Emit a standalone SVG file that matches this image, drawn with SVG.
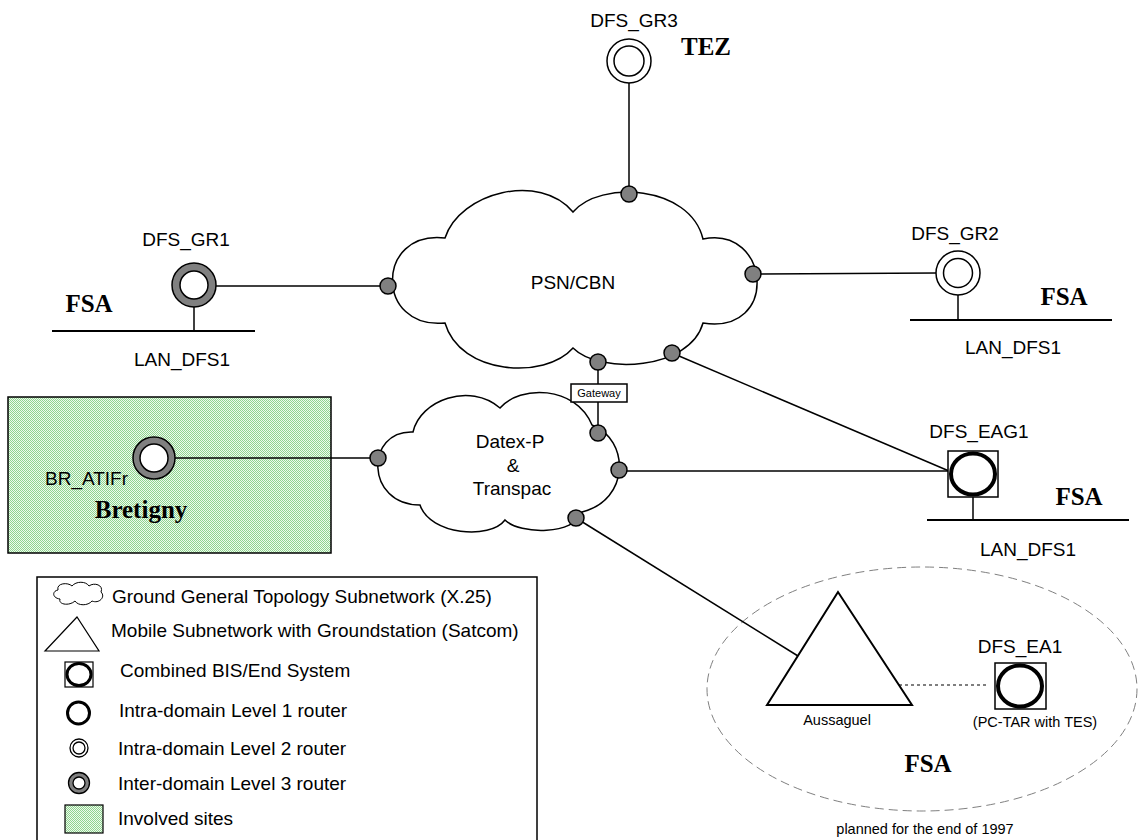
<svg xmlns="http://www.w3.org/2000/svg" width="1138" height="840" viewBox="0 0 1138 840">
<defs>
<pattern id="dots" width="2" height="2" patternUnits="userSpaceOnUse">
<rect width="2" height="2" fill="#eefaee"/>
<rect width="1" height="1" fill="#8fd48f"/>
<rect x="1" y="1" width="1" height="1" fill="#8fd48f"/>
</pattern>
</defs>
<style>
.l{font-family:"Liberation Sans",Arial,sans-serif;font-size:19px;fill:#000}
.s{font-family:"Liberation Sans",Arial,sans-serif;font-size:14.5px;fill:#000}
.g{font-family:"Liberation Sans",Arial,sans-serif;font-size:11px;fill:#000}
.b{font-family:"Liberation Serif","Times New Roman",serif;font-weight:bold;font-size:25px;fill:#000}
.ln{stroke:#000;stroke-width:1.5;fill:none}
.lan{stroke:#000;stroke-width:2;fill:none}
.dot{fill:#808080;stroke:#000;stroke-width:1.5}
.cloud{fill:#fff;stroke:#000;stroke-width:1.5}
.r3o{fill:#808080;stroke:#000;stroke-width:1.5}
.r3i{fill:#fff;stroke:#000;stroke-width:1.5}
.r2{fill:#fff;stroke:#000;stroke-width:1.5}
.bis{fill:#fff;stroke:#000;stroke-width:1.5}
.thick{fill:#fff;stroke:#000;stroke-width:4}
</style>
<rect width="1138" height="840" fill="#fff"/>

<g id="bretigny-site">
<rect x="8" y="397" width="323" height="156" fill="url(#dots)" stroke="#000" stroke-width="1.5"/>
<text class="b" x="141" y="518" text-anchor="middle">Bretigny</text>
</g>

<g id="fsa-planned">
<ellipse cx="922" cy="689" rx="215" ry="122" fill="none" stroke="#808080" stroke-width="1" stroke-dasharray="9 5"/>
<text class="b" x="928" y="772" text-anchor="middle">FSA</text>
<text class="s" x="925" y="834" text-anchor="middle">planned for the end of 1997</text>
</g>

<g id="connectors">
<line class="ln" x1="629" y1="83" x2="629" y2="194"/>
<line class="ln" x1="216" y1="286" x2="387" y2="286"/>
<line class="ln" x1="753" y1="274" x2="936" y2="273"/>
<line class="ln" x1="598" y1="362" x2="598" y2="433"/>
<line class="ln" x1="672" y1="353" x2="949" y2="471"/>
<line class="ln" x1="619" y1="471" x2="948" y2="471"/>
<line class="ln" x1="175" y1="458" x2="377" y2="458"/>
<line class="ln" x1="576" y1="518" x2="798" y2="656"/>
<line x1="899" y1="685" x2="988" y2="685" stroke="#555" stroke-width="1.5" stroke-dasharray="3 3"/>
</g>

<g id="psn-cbn">
<path class="cloud" d="M445,238 C460,192 540,172 573,212 C600,180 690,185 703,239 C770,225 780,335 703,323 C690,370 600,375 573,348 C545,380 460,375 445,323 C375,330 375,230 445,238 Z"/>
<text class="l" x="573" y="289" text-anchor="middle">PSN/CBN</text>
<circle class="dot" cx="629" cy="194" r="8"/>
<circle class="dot" cx="388" cy="286" r="8"/>
<circle class="dot" cx="753" cy="274" r="8"/>
<circle class="dot" cx="598" cy="362" r="8"/>
<circle class="dot" cx="672" cy="353" r="8"/>
</g>

<g id="datex-transpac">
<path class="cloud" d="M413,432 C420,400 470,382 500,408 C520,385 575,385 592,425 C630,440 630,500 582,512 C575,535 520,535 505,520 C490,540 430,535 420,505 C365,505 365,430 413,432 Z"/>
<text class="l" x="510" y="448" text-anchor="middle">Datex-P</text>
<text class="l" x="513" y="472" text-anchor="middle">&amp;</text>
<text class="l" x="512" y="495" text-anchor="middle">Transpac</text>
<circle class="dot" cx="378" cy="458" r="8"/>
<circle class="dot" cx="598" cy="433" r="8"/>
<circle class="dot" cx="619" cy="470" r="8"/>
<circle class="dot" cx="576" cy="518" r="8"/>
</g>

<g id="gateway">
<rect x="571" y="384" width="56" height="18" fill="#fff" stroke="#000" stroke-width="1.5"/>
<text class="g" x="599" y="397" text-anchor="middle">Gateway</text>
</g>

<g id="dfs-gr3">
<text class="l" x="634" y="27" text-anchor="middle">DFS_GR3</text>
<circle class="r2" cx="629" cy="61" r="22"/>
<circle class="r2" cx="629" cy="61" r="15"/>
<text class="b" x="706" y="55" text-anchor="middle">TEZ</text>
</g>

<g id="dfs-gr1">
<text class="l" x="186" y="246" text-anchor="middle">DFS_GR1</text>
<line class="ln" x1="194" y1="306" x2="194" y2="331"/>
<line class="lan" x1="52" y1="331" x2="255" y2="331"/>
<circle class="r3o" cx="194" cy="285" r="22"/>
<circle class="r3i" cx="194" cy="285" r="14"/>
<text class="b" x="89" y="312" text-anchor="middle">FSA</text>
<text class="l" x="182" y="366" text-anchor="middle">LAN_DFS1</text>
</g>

<g id="dfs-gr2">
<text class="l" x="955" y="240" text-anchor="middle">DFS_GR2</text>
<line class="ln" x1="958" y1="295" x2="958" y2="320"/>
<line class="lan" x1="910" y1="320" x2="1112" y2="320"/>
<circle class="r2" cx="958" cy="273" r="22"/>
<circle class="r2" cx="958" cy="273" r="14.5"/>
<text class="b" x="1064" y="305" text-anchor="middle">FSA</text>
<text class="l" x="1013" y="354" text-anchor="middle">LAN_DFS1</text>
</g>

<g id="dfs-eag1">
<text class="l" x="979" y="438" text-anchor="middle">DFS_EAG1</text>
<line class="ln" x1="973" y1="497" x2="973" y2="520"/>
<line class="lan" x1="927" y1="520" x2="1129" y2="520"/>
<rect class="bis" x="948" y="451" width="50" height="46"/>
<ellipse class="thick" cx="973" cy="474" rx="22" ry="20.5"/>
<text class="b" x="1079" y="505" text-anchor="middle">FSA</text>
<text class="l" x="1028" y="556" text-anchor="middle">LAN_DFS1</text>
</g>

<g id="br-atifr">
<circle class="r3o" cx="154" cy="458" r="21"/>
<circle class="r3i" cx="154" cy="458" r="14"/>
<text class="l" x="45" y="485">BR_ATIFr</text>
</g>

<g id="aussaguel">
<polygon points="838,592 767,705 912,705" fill="#fff" stroke="#000" stroke-width="2"/>
<text class="s" x="837" y="725" text-anchor="middle">Aussaguel</text>
</g>

<g id="dfs-ea1">
<text class="l" x="1020" y="653" text-anchor="middle">DFS_EA1</text>
<rect class="bis" x="995" y="663" width="51" height="46"/>
<ellipse class="thick" cx="1020" cy="686" rx="22" ry="20.5"/>
<text class="s" x="1035" y="727" text-anchor="middle">(PC-TAR with TES)</text>
</g>

<g id="legend">
<rect x="37" y="577" width="500" height="280" fill="#fff" stroke="#000" stroke-width="1.5"/>
<path d="M58,590 C56,583 68,582 72,586 C76,581 86,581 89,586 C94,582 104,585 101,592 C106,597 99,604 92,601 C88,606 78,606 75,601 C70,606 58,605 60,599 C52,598 52,591 58,590 Z" fill="#fff" stroke="#000" stroke-width="1"/>
<text class="l" x="112" y="603">Ground General Topology Subnetwork (X.25)</text>
<polygon points="77,617 45,651 99,651" fill="#fff" stroke="#000" stroke-width="1.2"/>
<text class="l" x="111" y="637">Mobile Subnetwork with Groundstation (Satcom)</text>
<rect x="65" y="662" width="28" height="25" fill="#fff" stroke="#000" stroke-width="1.2"/>
<ellipse cx="79" cy="674.5" rx="12" ry="11" fill="#fff" stroke="#000" stroke-width="3"/>
<text class="l" x="120" y="677">Combined BIS/End System</text>
<circle cx="78.5" cy="713" r="11" fill="#fff" stroke="#000" stroke-width="3"/>
<text class="l" x="119" y="717">Intra-domain Level 1 router</text>
<circle cx="79" cy="748" r="9" fill="#fff" stroke="#000" stroke-width="1.3"/>
<circle cx="79" cy="748" r="6" fill="#fff" stroke="#000" stroke-width="1.3"/>
<text class="l" x="118" y="755">Intra-domain Level 2 router</text>
<circle cx="79" cy="783" r="10.5" fill="#808080" stroke="#000" stroke-width="1.3"/>
<circle cx="79" cy="783" r="6" fill="#fff" stroke="#000" stroke-width="1.3"/>
<text class="l" x="118" y="790">Inter-domain Level 3 router</text>
<rect x="65" y="805" width="38" height="28" fill="url(#dots)" stroke="#000" stroke-width="1.2"/>
<text class="l" x="118" y="825">Involved sites</text>
</g>
</svg>
